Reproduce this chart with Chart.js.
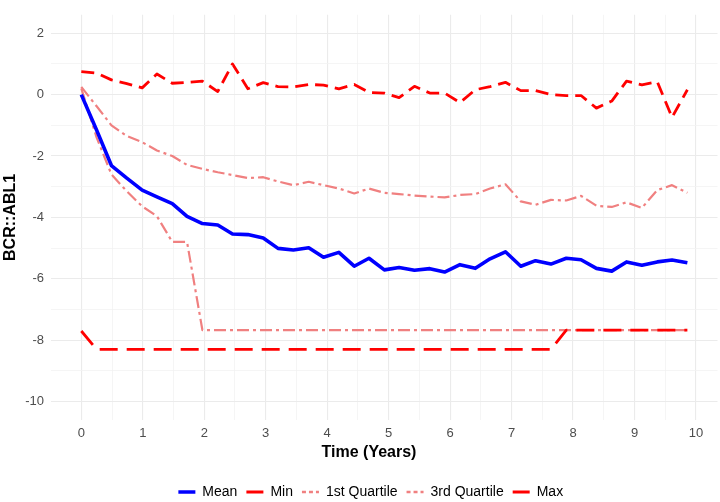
<!DOCTYPE html>
<html><head><meta charset="utf-8">
<script src="https://cdn.jsdelivr.net/npm/chart.js@4/dist/chart.umd.min.js"></script>
<style>html,body{margin:0;padding:0;background:#fff}#wrap{width:720px;height:502px}</style>
</head><body><div id="wrap"><canvas id="c" width="720" height="502"></canvas></div>
<script>
// ---- data ----
const times = [0, 0.25, 0.49, 0.74, 0.99, 1.23, 1.48, 1.72, 1.97, 2.22, 2.46, 2.71, 2.96, 3.2, 3.45, 3.7, 3.94, 4.19, 4.44, 4.68, 4.93, 5.17, 5.42, 5.67, 5.91, 6.16, 6.41, 6.65, 6.9, 7.15, 7.39, 7.64, 7.89, 8.13, 8.38, 8.63, 8.87, 9.12, 9.37, 9.61, 9.86];
const meanVals = [0, -1.16, -2.31, -2.72, -3.11, -3.33, -3.55, -3.97, -4.2, -4.25, -4.54, -4.56, -4.67, -5.01, -5.06, -4.99, -5.3, -5.14, -5.59, -5.33, -5.71, -5.63, -5.72, -5.67, -5.78, -5.54, -5.66, -5.35, -5.12, -5.59, -5.41, -5.52, -5.33, -5.38, -5.66, -5.75, -5.45, -5.56, -5.45, -5.39, -5.48];
const minVals = [-7.7, -8.3, -8.3, -8.3, -8.3, -8.3, -8.3, -8.3, -8.3, -8.3, -8.3, -8.3, -8.3, -8.3, -8.3, -8.3, -8.3, -8.3, -8.3, -8.3, -8.3, -8.3, -8.3, -8.3, -8.3, -8.3, -8.3, -8.3, -8.3, -8.3, -8.3, -8.3, -7.67, -7.67, -7.67, -7.67, -7.67, -7.67, -7.67, -7.67, -7.67];
const q1Vals = [0.2, -1.4, -2.6, -3.15, -3.64, -3.96, -4.8, -4.8, -7.67, -7.67, -7.67, -7.67, -7.67, -7.67, -7.67, -7.67, -7.67, -7.67, -7.67, -7.67, -7.67, -7.67, -7.67, -7.67, -7.67, -7.67, -7.67, -7.67, -7.67, -7.67, -7.67, -7.67, -7.67, -7.67, -7.67, -7.67, -7.67, -7.67, -7.67, -7.67, -7.67];
const q3Vals = [0.25, -0.38, -1.0, -1.35, -1.55, -1.82, -2.0, -2.29, -2.42, -2.53, -2.62, -2.72, -2.69, -2.83, -2.95, -2.84, -2.95, -3.06, -3.22, -3.06, -3.2, -3.24, -3.29, -3.32, -3.35, -3.27, -3.24, -3.06, -2.92, -3.48, -3.59, -3.43, -3.45, -3.3, -3.62, -3.66, -3.51, -3.69, -3.11, -2.95, -3.2];
const maxVals = [0.75, 0.7, 0.48, 0.36, 0.22, 0.67, 0.37, 0.4, 0.44, 0.1, 1.0, 0.19, 0.39, 0.26, 0.25, 0.33, 0.31, 0.19, 0.33, 0.07, 0.05, -0.1, 0.27, 0.05, 0.05, -0.26, 0.16, 0.26, 0.4, 0.13, 0.13, 0.0, -0.03, -0.03, -0.44, -0.21, 0.44, 0.32, 0.42, -0.74, 0.16];
const seriesNames = ['Mean', 'Min', '1st Quartile', '3rd Quartile', 'Max'];
const xTickVals = [0, 0.5, 1, 1.5, 2, 2.5, 3, 3.5, 4, 4.5, 5, 5.5, 6, 6.5, 7, 7.5, 8, 8.5, 9, 9.5, 10];
const yTickVals = [-10, -9, -8, -7, -6, -5, -4, -3, -2, -1, 0, 1, 2];
const xTitle = 'Time (Years)';
const yTitle = 'BCR::ABL1';

// ---- styles ----
const FONT = '"Liberation Sans", Arial, Helvetica, sans-serif';
const colors = ['#0000FF', '#FF0000', '#F08080', '#F08080', '#FF0000'];
const widths = [3.6, 2.8, 2.2, 2.2, 2.8];
const dashes = [[], [18, 9], [12, 4, 3, 4], [12, 4, 3, 4], [13, 7]];
const legendDash = [[], [], [4, 3], [4, 3], []];
const legendWidths = [3.6, 3, 2.4, 2.4, 3];

const allVals = [meanVals, minVals, q1Vals, q3Vals, maxVals];
const datasets = allVals.map((vals, k) => ({
  label: seriesNames[k],
  data: times.map((t, i) => ({x: t, y: vals[i]})),
  borderColor: colors[k],
  backgroundColor: colors[k],
  borderWidth: widths[k],
  borderDash: dashes[k],
  borderCapStyle: 'butt',
  borderJoinStyle: 'round',
  pointRadius: 0,
  pointHoverRadius: 0,
  tension: 0,
  fill: false
}));

const extras = {
  id: 'extras',
  afterLayout(chart) {
    const L = chart.legend;
    if (L) { L.left += 24; L.top += 7; L.bottom += 7; }
  },
  afterDraw(chart) {
    const ctx = chart.ctx;
    ctx.save();
    ctx.font = 'bold 16px ' + FONT;
    ctx.fillStyle = '#000';
    ctx.textAlign = 'center';
    ctx.textBaseline = 'middle';
    ctx.fillText(xTitle, 369, 453);
    ctx.restore();
  }
};

new Chart(document.getElementById('c'), {
  type: 'line',
  data: {datasets},
  plugins: [extras],
  options: {
    responsive: false,
    devicePixelRatio: 1,
    animation: false,
    layout: {padding: {top: 3, right: 2.5, left: 0, bottom: 0}},
    plugins: {
      tooltip: {enabled: false},
      legend: {
        position: 'bottom',
        labels: {
          usePointStyle: true,
          pointStyleWidth: 17,
          padding: 9,
          color: '#000',
          font: {size: 14, family: FONT},
          generateLabels: chart => chart.data.datasets.map((ds, i) => ({
            text: ds.label,
            fillStyle: ds.borderColor,
            strokeStyle: ds.borderColor,
            lineWidth: legendWidths[i],
            lineDash: legendDash[i],
            lineCap: 'butt',
            pointStyle: 'line',
            hidden: false,
            datasetIndex: i,
            fontColor: '#000'
          }))
        }
      }
    },
    scales: {
      x: {
        type: 'linear',
        min: -0.493,
        max: 10.35,
        afterBuildTicks: s => { s.ticks = xTickVals.map(v => ({value: v})); },
        afterFit: s => { s.height = 49; },
        ticks: {
          autoSkip: false, maxRotation: 0, padding: 6,
          color: '#4D4D4D', font: {size: 13, family: FONT},
          callback: v => Number.isInteger(v) ? String(v) : ''
        },
        grid: {
          drawTicks: false,
          color: c => Number.isInteger(c.tick.value) ? '#EBEBEB' : '#F3F3F3',
          lineWidth: c => Number.isInteger(c.tick.value) ? 1.1 : 0.8
        },
        border: {display: false},
        title: {display: false}
      },
      y: {
        min: -10.6,
        max: 2.6,
        afterBuildTicks: s => { s.ticks = yTickVals.map(v => ({value: v})); },
        afterFit: s => { s.width = 51; },
        ticks: {
          autoSkip: false, padding: 7,
          color: '#4D4D4D', font: {size: 13, family: FONT},
          callback: v => (v % 2 === 0) ? String(v) : ''
        },
        grid: {
          drawTicks: false,
          color: c => (c.tick.value % 2 === 0) ? '#EBEBEB' : '#F3F3F3',
          lineWidth: c => (c.tick.value % 2 === 0) ? 1.1 : 0.8
        },
        border: {display: false},
        title: {display: true, text: yTitle, color: '#000', font: {size: 16, weight: 'bold', family: FONT}, padding: {top: 1, bottom: 0}}
      }
    }
  }
});
</script></body></html>
